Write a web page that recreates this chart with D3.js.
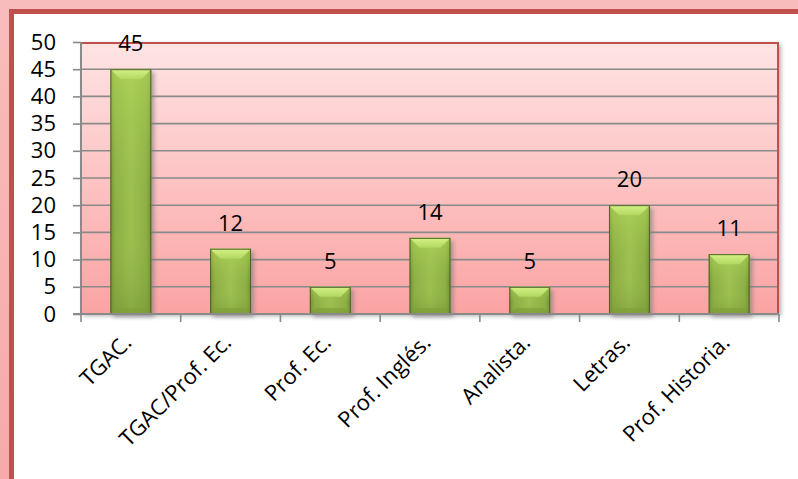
<!DOCTYPE html>
<html>
<head>
<meta charset="utf-8">
<script src="https://cdn.jsdelivr.net/npm/d3@7"></script>
<style>
  body { margin: 0; background: #fff; }
  text { font-family: "Open Sans", sans-serif; fill: #000; }
</style>
</head>
<body>
<div id="chart"></div>
<script>
var categories = ["TGAC.", "TGAC/Prof. Ec.", "Prof. Ec.", "Prof. Inglés.", "Analista.", "Letras.", "Prof. Historia."];
var values = [45, 12, 5, 14, 5, 20, 11];
var yTicks = [0, 5, 10, 15, 20, 25, 30, 35, 40, 45, 50];

(function () {
  var width = 798;
  var height = 479;
  var plot = { left: 81, right: 779, top: 42, bottom: 314 };

  var svg = d3.select("#chart")
    .append("svg")
    .attr("width", width)
    .attr("height", height);

  var defs = svg.append("defs");

  var bg = defs.append("linearGradient")
    .attr("id", "plotbg")
    .attr("x1", 0).attr("y1", 0).attr("x2", 0).attr("y2", 1);
  bg.append("stop").attr("offset", "0%").attr("stop-color", "#ffe4e4");
  bg.append("stop").attr("offset", "100%").attr("stop-color", "#fba3a3");

  var frame = defs.append("linearGradient")
    .attr("id", "frame")
    .attr("x1", 0).attr("y1", 0).attr("x2", 0).attr("y2", 1);
  frame.append("stop").attr("offset", "0%").attr("stop-color", "#f9bcbc");
  frame.append("stop").attr("offset", "100%").attr("stop-color", "#f6aaaa");

  var barGrad = defs.append("linearGradient")
    .attr("id", "bar")
    .attr("x1", 0).attr("y1", 0).attr("x2", 1).attr("y2", 0);
  barGrad.append("stop").attr("offset", "0%").attr("stop-color", "#6f8f30");
  barGrad.append("stop").attr("offset", "12%").attr("stop-color", "#8cae45");
  barGrad.append("stop").attr("offset", "50%").attr("stop-color", "#9dc050");
  barGrad.append("stop").attr("offset", "88%").attr("stop-color", "#8cae45");
  barGrad.append("stop").attr("offset", "100%").attr("stop-color", "#6f8f30");

  var barV = defs.append("linearGradient")
    .attr("id", "barv")
    .attr("x1", 0).attr("y1", 0).attr("x2", 0).attr("y2", 1);
  barV.append("stop").attr("offset", "0%").attr("stop-color", "#b6dc5c").attr("stop-opacity", 0.6);
  barV.append("stop").attr("offset", "60%").attr("stop-color", "#9dc050").attr("stop-opacity", 0);
  barV.append("stop").attr("offset", "100%").attr("stop-color", "#6f8f30").attr("stop-opacity", 0.5);

  var bevel = defs.append("linearGradient")
    .attr("id", "bevel")
    .attr("x1", 0).attr("y1", 0).attr("x2", 0).attr("y2", 1);
  bevel.append("stop").attr("offset", "0%").attr("stop-color", "#d4f286");
  bevel.append("stop").attr("offset", "100%").attr("stop-color", "#b2d860");

  var sh = defs.append("filter").attr("id", "shadow")
    .attr("x", "-20%").attr("y", "-20%").attr("width", "140%").attr("height", "140%");
  sh.append("feGaussianBlur").attr("stdDeviation", 2);

  // outer frame (cropped on the right and bottom)
  svg.append("rect")
    .attr("x", 0).attr("y", 0).attr("width", width).attr("height", height)
    .attr("fill", "url(#frame)");
  svg.append("rect")
    .attr("x", 9).attr("y", 9).attr("width", width).attr("height", height)
    .attr("fill", "#c0504d");
  svg.append("rect")
    .attr("x", 14).attr("y", 14).attr("width", width).attr("height", height)
    .attr("fill", "#ffffff");

  var x = d3.scaleBand()
    .domain(categories)
    .range([plot.left, plot.right])
    .paddingInner(0.59)
    .paddingOuter(0.295);

  var y = d3.scaleLinear()
    .domain([0, 50])
    .range([plot.bottom, plot.top]);

  // plot shadow + background
  svg.append("rect")
    .attr("x", plot.left + 2).attr("y", plot.top + 2)
    .attr("width", plot.right - plot.left).attr("height", plot.bottom - plot.top)
    .attr("fill", "#b0b0b0")
    .attr("filter", "url(#shadow)");
  svg.append("rect")
    .attr("x", plot.left).attr("y", plot.top)
    .attr("width", plot.right - plot.left).attr("height", plot.bottom - plot.top)
    .attr("fill", "url(#plotbg)");

  // gridlines
  svg.append("g")
    .selectAll("line")
    .data(yTicks.slice(1, -1))
    .enter().append("line")
    .attr("x1", plot.left).attr("x2", plot.right)
    .attr("y1", function (d) { return y(d); })
    .attr("y2", function (d) { return y(d); })
    .attr("stroke", "#8a8a8a")
    .attr("stroke-width", 1.6);

  // plot border (top and right)
  svg.append("path")
    .attr("d", "M" + plot.left + "," + (plot.top + 1) + "H" + (plot.right - 1) + "V" + plot.bottom)
    .attr("fill", "none")
    .attr("stroke", "#c0504d")
    .attr("stroke-width", 2);

  // bars
  var bars = svg.append("g")
    .selectAll("g")
    .data(values)
    .enter().append("g");

  bars.append("rect")
    .attr("x", function (d, i) { return x(categories[i]) + 3; })
    .attr("y", function (d) { return y(d) + 3; })
    .attr("width", x.bandwidth())
    .attr("height", function (d) { return y(0) - y(d); })
    .attr("fill", "#7a7a7a")
    .attr("opacity", 0.6)
    .attr("filter", "url(#shadow)");

  bars.append("rect")
    .attr("x", function (d, i) { return x(categories[i]); })
    .attr("y", function (d) { return y(d); })
    .attr("width", x.bandwidth())
    .attr("height", function (d) { return y(0) - y(d); })
    .attr("fill", "url(#bar)");

  bars.append("rect")
    .attr("x", function (d, i) { return x(categories[i]); })
    .attr("y", function (d) { return y(d); })
    .attr("width", x.bandwidth())
    .attr("height", function (d) { return y(0) - y(d); })
    .attr("fill", "url(#barv)");

  // top bevel
  bars.append("path")
    .attr("d", function (d, i) {
      var x0 = x(categories[i]), x1 = x0 + x.bandwidth(), t = y(d), b = 10;
      return "M" + x0 + "," + t + "H" + x1 + "L" + (x1 - b) + "," + (t + b) +
        "H" + (x0 + b) + "Z";
    })
    .attr("fill", "url(#bevel)");

  // bottom bevel
  bars.append("path")
    .attr("d", function (d, i) {
      var x0 = x(categories[i]), x1 = x0 + x.bandwidth(), bt = y(0), b = 6;
      return "M" + x0 + "," + bt + "H" + x1 + "L" + (x1 - b) + "," + (bt - b) +
        "H" + (x0 + b) + "Z";
    })
    .attr("fill", "#7f9f38")
    .attr("opacity", 0.6);

  bars.append("rect")
    .attr("x", function (d, i) { return x(categories[i]) + 0.5; })
    .attr("y", function (d) { return y(d) + 0.5; })
    .attr("width", x.bandwidth() - 1)
    .attr("height", function (d) { return y(0) - y(d) - 1; })
    .attr("fill", "none")
    .attr("stroke", "#4f6228")
    .attr("stroke-width", 1);

  // value labels
  bars.append("text")
    .attr("x", function (d, i) { return x(categories[i]) + x.bandwidth() / 2; })
    .attr("y", function (d) { return y(d) - 18; })
    .attr("text-anchor", "middle")
    .style("font-size", "22px")
    .text(function (d) { return d; });

  // y axis
  var yAxis = svg.append("g")
    .attr("transform", "translate(" + plot.left + ",0)")
    .call(d3.axisLeft(y).tickValues(yTicks).tickSize(8).tickPadding(17));
  yAxis.select(".domain").attr("stroke", "#8a8a8a").attr("stroke-width", 2)
    .attr("d", "M0," + plot.top + "V" + plot.bottom);
  yAxis.selectAll(".tick line").attr("stroke", "#8a8a8a").attr("stroke-width", 1.6);
  yAxis.selectAll("text").style("font-size", "22px").attr("fill", "#000");

  // x axis
  var xAxis = svg.append("g")
    .attr("transform", "translate(0," + plot.bottom + ")");
  xAxis.append("line")
    .attr("x1", plot.left - 8).attr("x2", plot.right)
    .attr("stroke", "#8a8a8a").attr("stroke-width", 2);
  xAxis.selectAll(".xt")
    .data(d3.range(categories.length + 1))
    .enter().append("line")
    .attr("class", "xt")
    .attr("x1", function (d) { return plot.left + d * x.step(); })
    .attr("x2", function (d) { return plot.left + d * x.step(); })
    .attr("y1", 0).attr("y2", 8)
    .attr("stroke", "#8a8a8a").attr("stroke-width", 1.6);
  xAxis.selectAll(".xl")
    .data(categories)
    .enter().append("text")
    .attr("class", "xl")
    .attr("text-anchor", "end")
    .attr("transform", function (d) {
      return "translate(" + (x(d) + x.bandwidth() / 2 + 2) + ",30) rotate(-45)";
    })
    .style("font-size", "22px")
    .text(function (d) { return d; });
})();
</script>
</body>
</html>
